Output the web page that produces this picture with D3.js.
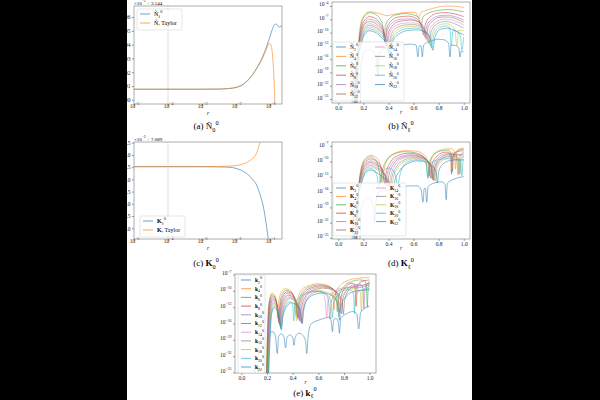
<!DOCTYPE html>
<html>
<head>
<meta charset="utf-8">
<script src="https://cdn.jsdelivr.net/npm/d3@7"></script>
<style>
  body { margin: 0; background: #000; }
  svg { display: block; }
</style>
</head>
<body>
<div id="chart"></div>
<script>
const W = 600, H = 400;
const SERIF = "'Liberation Serif', 'DejaVu Serif', serif";
const tab = d3.schemeCategory10;

// ---------- data ----------
const logRTicks = [1e-5, 1e-4, 1e-3, 1e-2, 1e-1];
const linRTicks = [0, 0.2, 0.4, 0.6, 0.8, 1.0];
const aTicks = [90, 91, 92, 93, 94, 95, 96];
const cTicks = [79.0, 79.5, 80.0, 80.5, 81.0, 81.5, 82.0, 82.5];
const bTickExp = [-25, -22, -19, -16, -13, -10, -7, -4];
const dTickExp = [-25, -22, -19, -16, -13, -10, -7];
const eTickExp = [-25, -22, -19, -16, -13, -10, -7];
const ells = [2, 4, 6, 8, 10, 12, 14, 16, 18, 20, 22];

// (a) N~_0^0 (units 1e-5, offset 3.544) vs r
const aExact = [[1e-5, 90.77], [1e-3, 90.77], [3e-3, 90.78], [6e-3, 90.82], [1e-2, 90.9], [2e-2, 91.3],
  [3e-2, 91.8], [4.5e-2, 92.5], [6e-2, 93.1], [8e-2, 93.9], [0.1, 94.6], [0.12, 95.2], [0.145, 95.5],
  [0.165, 95.4], [0.185, 95.25], [0.21, 95.35], [0.23, 95.3]];
const aTaylor = [[1e-5, 90.77], [1e-3, 90.77], [3e-3, 90.78], [6e-3, 90.82], [1e-2, 90.9], [2e-2, 91.3],
  [3e-2, 91.8], [4.5e-2, 92.45], [6e-2, 93.0], [8e-2, 93.75], [0.095, 94.1], [0.108, 93.9], [0.12, 93.0],
  [0.13, 91.5], [0.14, 89.5]];

// (c) K_0^0 (units 1e-3, offset 7.089) vs r
const cExact = [[1e-5, 81.52], [1e-3, 81.52], [3e-3, 81.51], [6e-3, 81.5], [1e-2, 81.45], [2e-2, 81.25],
  [3e-2, 81.02], [4e-2, 80.77], [5e-2, 80.4], [6.3e-2, 79.9], [7.9e-2, 79.07], [9e-2, 78.5]];
const cTaylor = [[1e-5, 81.52], [1e-3, 81.52], [3e-3, 81.53], [6e-3, 81.54], [1e-2, 81.57], [2e-2, 81.68],
  [3e-2, 81.85], [4e-2, 82.07], [5e-2, 82.5], [5.5e-2, 82.7]];

// (b) N~_l^0, log10 of value vs r
const bSeries = [
  [[0.11,-26],[0.122,-19.5],[0.13,-26],[0.175,-26],[0.18,-18],[0.2,-14.8],[0.22,-14],[0.25,-13.9],[0.28,-14.3],[0.305,-15.5],[0.315,-20],[0.325,-15],[0.36,-13.7],[0.42,-13.3],[0.5,-12.8],[0.58,-12.6],[0.62,-12.8],[0.635,-15.5],[0.645,-13],[0.66,-13],[0.67,-15.5],[0.68,-12.8],[0.74,-11.9],[0.8,-11.5],[0.85,-11.7],[0.88,-12.5],[0.89,-15.5],[0.9,-12.8],[0.93,-12.9],[0.96,-13.4],[0.97,-15.5],[0.98,-14.2],[1.0,-14.4]],
  [[0.15,-26],[0.16,-14],[0.18,-8],[0.21,-6],[0.25,-5.3],[0.3,-5.5],[0.35,-5.9],[0.39,-6.2],[0.42,-6.0],[0.5,-5.6],[0.58,-5.4],[0.62,-5.5],[0.64,-6.8],[0.655,-5.6],[0.7,-5.0],[0.76,-4.5],[0.82,-4.1],[0.88,-4.0],[0.94,-4.1],[1.0,-4.3]],
  [[0.15,-26],[0.162,-14],[0.18,-8.5],[0.21,-6.3],[0.25,-5.5],[0.29,-5.8],[0.33,-6.8],[0.355,-8.5],[0.365,-11],[0.375,-8.6],[0.41,-6.8],[0.46,-6.0],[0.54,-5.7],[0.6,-6.0],[0.64,-6.6],[0.66,-8.5],[0.675,-6.5],[0.72,-5.6],[0.8,-5.0],[0.87,-4.8],[0.94,-5.0],[1.0,-5.3]],
  [[0.145,-26],[0.158,-15],[0.18,-9.5],[0.21,-7.2],[0.25,-6.4],[0.29,-6.7],[0.33,-7.8],[0.36,-9.5],[0.372,-12],[0.385,-9.2],[0.42,-7.4],[0.48,-6.5],[0.56,-6.3],[0.62,-6.8],[0.66,-8.2],[0.68,-10.5],[0.695,-8.0],[0.74,-6.3],[0.8,-5.6],[0.86,-5.5],[0.93,-5.8],[1.0,-6.4]],
  [[0.14,-26],[0.155,-15.5],[0.18,-10],[0.21,-7.8],[0.25,-7.0],[0.29,-7.3],[0.33,-8.3],[0.36,-10],[0.375,-12.5],[0.39,-9.6],[0.43,-7.8],[0.5,-7.0],[0.57,-6.9],[0.63,-7.4],[0.67,-8.6],[0.69,-11],[0.705,-8.5],[0.75,-6.9],[0.81,-6.2],[0.87,-6.1],[0.94,-6.5],[1.0,-7.2]],
  [[0.14,-26],[0.152,-16],[0.18,-10.5],[0.21,-8.2],[0.25,-7.5],[0.29,-7.8],[0.33,-8.8],[0.37,-10.5],[0.385,-13],[0.4,-10],[0.44,-8.2],[0.5,-7.4],[0.58,-7.2],[0.64,-7.6],[0.68,-8.8],[0.7,-11.5],[0.715,-8.8],[0.76,-7.2],[0.82,-6.5],[0.88,-6.5],[0.94,-6.9],[1.0,-7.7]],
  [[0.135,-26],[0.15,-16.5],[0.18,-11],[0.21,-8.8],[0.25,-8.0],[0.29,-8.3],[0.33,-9.3],[0.37,-11],[0.39,-13.5],[0.405,-10.5],[0.45,-8.6],[0.52,-7.9],[0.59,-7.8],[0.65,-8.2],[0.69,-9.3],[0.715,-12],[0.73,-9.3],[0.78,-7.6],[0.84,-7.0],[0.9,-7.1],[0.95,-7.6],[1.0,-8.3]],
  [[0.135,-26],[0.148,-17],[0.18,-11.5],[0.21,-9.2],[0.25,-8.4],[0.29,-8.7],[0.34,-9.8],[0.38,-11.5],[0.4,-14],[0.415,-11],[0.46,-9.0],[0.53,-8.3],[0.6,-8.2],[0.66,-8.7],[0.7,-9.8],[0.725,-12.5],[0.74,-9.8],[0.79,-8.0],[0.85,-7.5],[0.9,-7.7],[0.95,-8.3],[1.0,-9.0]],
  [[0.13,-26],[0.145,-17.5],[0.18,-12],[0.21,-9.6],[0.25,-8.8],[0.29,-9.1],[0.34,-10.2],[0.38,-12],[0.405,-14.5],[0.42,-11.4],[0.47,-9.4],[0.54,-8.7],[0.61,-8.6],[0.67,-9.1],[0.71,-10.2],[0.735,-13],[0.75,-10.2],[0.8,-8.4],[0.86,-8.0],[0.9,-8.4],[0.93,-9.5],[0.945,-13],[0.96,-9.5],[1.0,-9.6]],
  [[0.13,-26],[0.143,-18],[0.18,-12.5],[0.21,-10],[0.25,-9.2],[0.29,-9.5],[0.34,-10.6],[0.39,-12.5],[0.41,-15],[0.425,-11.8],[0.48,-9.8],[0.55,-9.1],[0.62,-9.0],[0.68,-9.5],[0.72,-10.6],[0.745,-13.5],[0.76,-10.6],[0.81,-8.8],[0.86,-8.5],[0.89,-9.0],[0.9,-13],[0.915,-9.5],[0.95,-9.8],[0.975,-11],[0.985,-14],[1.0,-11]],
  [[0.125,-26],[0.14,-18.5],[0.18,-13],[0.21,-10.4],[0.25,-9.6],[0.29,-9.9],[0.34,-11],[0.39,-13],[0.415,-15.5],[0.43,-12.2],[0.49,-10.2],[0.56,-9.5],[0.63,-9.4],[0.69,-9.9],[0.73,-11],[0.755,-14],[0.77,-11],[0.82,-9.2],[0.87,-9.0],[0.92,-9.4],[0.96,-10],[1.0,-10.5]]
];

// (d) K_l^0, log10 of value vs r
const dSeries = [
  [[0.11,-26],[0.12,-20],[0.125,-26],[0.17,-26],[0.18,-20],[0.2,-17.8],[0.23,-17.2],[0.26,-17.6],[0.28,-19],[0.29,-22],[0.3,-18],[0.33,-15.8],[0.4,-15.6],[0.48,-15.2],[0.56,-14.8],[0.63,-14.8],[0.66,-15.5],[0.675,-18],[0.685,-15.3],[0.695,-15.3],[0.705,-18],[0.715,-15],[0.77,-14.2],[0.82,-14.0],[0.85,-14.4],[0.86,-17.5],[0.87,-14.3],[0.92,-13.5],[0.97,-13.1],[1.0,-13.0]],
  [[0.15,-26],[0.162,-16],[0.185,-11],[0.22,-9.3],[0.26,-8.8],[0.3,-9.2],[0.33,-10.3],[0.345,-12],[0.355,-14],[0.365,-11.6],[0.4,-9.4],[0.46,-8.3],[0.54,-7.9],[0.62,-8.0],[0.68,-8.6],[0.71,-9.8],[0.725,-12.8],[0.74,-9.8],[0.78,-8.2],[0.84,-7.6],[0.9,-7.5],[0.925,-8.0],[0.935,-11.5],[0.945,-8.2],[0.97,-7.5],[1.0,-7.4]],
  [[0.148,-26],[0.16,-16.5],[0.185,-11.4],[0.22,-9.6],[0.26,-9.1],[0.29,-9.5],[0.315,-10.6],[0.33,-12.4],[0.34,-14.2],[0.35,-12],[0.39,-9.6],[0.45,-8.5],[0.53,-8.1],[0.61,-8.3],[0.67,-8.9],[0.7,-10.1],[0.715,-13],[0.73,-10],[0.77,-8.5],[0.83,-7.9],[0.88,-7.8],[0.9,-8.5],[0.91,-12],[0.92,-8.6],[0.96,-7.8],[1.0,-7.6]],
  [[0.145,-26],[0.158,-17],[0.185,-11.8],[0.22,-10],[0.26,-9.5],[0.3,-9.9],[0.34,-11],[0.36,-12.8],[0.37,-14.4],[0.38,-12.4],[0.42,-10],[0.48,-8.8],[0.56,-8.4],[0.63,-8.6],[0.69,-9.3],[0.72,-10.5],[0.735,-13.2],[0.75,-10.5],[0.79,-8.9],[0.85,-8.2],[0.88,-8.2],[0.895,-9],[0.903,-12.5],[0.912,-9],[0.95,-8.1],[1.0,-7.9]],
  [[0.142,-26],[0.156,-17.4],[0.185,-12.2],[0.22,-10.4],[0.26,-9.9],[0.3,-10.3],[0.34,-11.3],[0.37,-13],[0.38,-14.6],[0.39,-12.6],[0.43,-10.3],[0.49,-9.1],[0.57,-8.7],[0.64,-8.9],[0.7,-9.6],[0.73,-10.8],[0.745,-13.4],[0.76,-10.8],[0.8,-9.2],[0.86,-8.5],[0.92,-8.4],[0.945,-9.2],[0.955,-12.6],[0.965,-9.2],[1.0,-8.2]],
  [[0.14,-26],[0.154,-17.8],[0.185,-12.6],[0.22,-10.7],[0.26,-10.2],[0.3,-10.6],[0.35,-11.7],[0.38,-13.3],[0.392,-14.8],[0.402,-12.9],[0.44,-10.6],[0.5,-9.3],[0.58,-8.9],[0.65,-9.1],[0.71,-9.8],[0.74,-11],[0.755,-13.6],[0.77,-11],[0.81,-9.4],[0.87,-8.7],[0.93,-8.6],[0.97,-8.7],[1.0,-8.5]],
  [[0.138,-26],[0.152,-18.2],[0.185,-13],[0.22,-11],[0.26,-10.5],[0.3,-10.9],[0.35,-12],[0.39,-13.6],[0.405,-15],[0.415,-13.2],[0.45,-10.9],[0.51,-9.5],[0.59,-9.1],[0.66,-9.3],[0.72,-10],[0.75,-11.2],[0.765,-13.8],[0.78,-11.2],[0.82,-9.6],[0.88,-8.9],[0.94,-8.8],[0.98,-8.9],[1.0,-8.8]],
  [[0.136,-26],[0.15,-18.6],[0.185,-13.3],[0.22,-11.3],[0.26,-10.8],[0.3,-11.2],[0.36,-12.4],[0.4,-13.9],[0.415,-15.2],[0.425,-13.4],[0.46,-11.2],[0.52,-9.8],[0.6,-9.3],[0.67,-9.5],[0.72,-10.1],[0.745,-11.2],[0.758,-13.7],[0.77,-11.2],[0.81,-9.8],[0.87,-9.1],[0.93,-9.0],[0.96,-9.4],[0.97,-12.4],[0.98,-9.4],[1.0,-9.0]],
  [[0.134,-26],[0.148,-19],[0.185,-13.6],[0.22,-11.6],[0.26,-11.1],[0.3,-11.5],[0.36,-12.7],[0.41,-14.2],[0.425,-15.4],[0.435,-13.6],[0.47,-11.4],[0.53,-10],[0.61,-9.5],[0.68,-9.7],[0.73,-10.4],[0.76,-11.5],[0.772,-13.9],[0.785,-11.5],[0.82,-10],[0.88,-9.3],[0.93,-9.2],[0.955,-9.6],[0.963,-12.6],[0.972,-9.6],[1.0,-9.2]],
  [[0.13,-26],[0.146,-19.4],[0.185,-14],[0.22,-11.9],[0.26,-11.4],[0.29,-11.9],[0.31,-13],[0.325,-15],[0.335,-13],[0.36,-11.8],[0.4,-11.3],[0.44,-11.8],[0.46,-13.2],[0.475,-14.8],[0.49,-12.8],[0.54,-10.3],[0.62,-9.7],[0.68,-9.9],[0.7,-10.6],[0.715,-13.4],[0.73,-10.6],[0.78,-9.8],[0.84,-9.5],[0.9,-9.5],[0.975,-9.9],[0.985,-12.8],[0.995,-9.9],[1.0,-9.5]],
  [[0.128,-26],[0.144,-19.8],[0.185,-14.3],[0.22,-12.2],[0.26,-11.7],[0.3,-12.1],[0.36,-13.2],[0.42,-14.6],[0.44,-15.6],[0.45,-13.9],[0.49,-11.8],[0.55,-10.5],[0.63,-9.9],[0.7,-10.1],[0.75,-10.9],[0.78,-12],[0.79,-14.2],[0.8,-12],[0.84,-10.4],[0.9,-9.8],[0.95,-9.7],[1.0,-9.7]]
];

// (e) k_l^0, log10 of value vs r
const eSeries = [
  [[0.1,-26],[0.105,-23.5],[0.11,-26],[0.125,-26],[0.13,-23.5],[0.135,-26],[0.2,-26],[0.21,-19],[0.225,-17.6],[0.245,-17.5],[0.265,-18.3],[0.28,-21.5],[0.29,-18.4],[0.31,-17.9],[0.33,-18.3],[0.345,-20.5],[0.355,-18.6],[0.38,-18.1],[0.4,-18.6],[0.41,-20],[0.42,-18.5],[0.45,-17.8],[0.48,-18.2],[0.5,-19.2],[0.51,-21.5],[0.52,-18.5],[0.54,-16.2],[0.56,-15.8],[0.6,-15.4],[0.65,-15.0],[0.69,-14.8],[0.7,-15.5],[0.71,-17.5],[0.72,-15.3],[0.74,-15.1],[0.755,-15.6],[0.765,-17.8],[0.775,-15],[0.82,-14.2],[0.87,-13.8],[0.9,-14.2],[0.915,-17],[0.93,-14],[0.97,-13.1],[1.0,-12.8]],
  [[0.195,-26],[0.205,-16],[0.22,-11.5],[0.24,-10.4],[0.26,-10.8],[0.275,-12.5],[0.283,-15],[0.29,-12.4],[0.31,-10.3],[0.34,-9.6],[0.37,-9.8],[0.4,-10.6],[0.415,-12],[0.425,-14.5],[0.435,-12],[0.47,-9.8],[0.53,-9.0],[0.6,-8.7],[0.66,-8.9],[0.7,-9.6],[0.715,-11],[0.722,-13.5],[0.73,-11],[0.77,-9.0],[0.83,-8.1],[0.9,-7.7],[0.95,-7.6],[1.0,-7.5]],
  [[0.195,-26],[0.206,-16.4],[0.22,-11.8],[0.24,-10.7],[0.26,-11.1],[0.28,-12.9],[0.29,-15.4],[0.298,-12.7],[0.32,-10.6],[0.35,-9.9],[0.38,-10.1],[0.41,-11],[0.425,-12.4],[0.435,-14.8],[0.445,-12.3],[0.48,-10.1],[0.54,-9.2],[0.61,-8.9],[0.67,-9.1],[0.72,-9.8],[0.74,-11.2],[0.748,-13.8],[0.756,-11.2],[0.8,-9.2],[0.86,-8.3],[0.92,-8.0],[0.96,-8.1],[0.975,-9.2],[0.982,-13],[0.99,-9.2],[1.0,-8.6]],
  [[0.198,-26],[0.208,-16.8],[0.222,-12.1],[0.242,-11.0],[0.262,-11.4],[0.282,-13.2],[0.293,-15.8],[0.302,-13],[0.325,-10.9],[0.355,-10.2],[0.385,-10.4],[0.415,-11.3],[0.432,-12.8],[0.442,-15.1],[0.452,-12.6],[0.49,-10.3],[0.55,-9.4],[0.62,-9.1],[0.68,-9.3],[0.73,-10],[0.755,-11.4],[0.765,-14],[0.775,-11.4],[0.81,-9.4],[0.86,-8.6],[0.885,-8.8],[0.895,-12.8],[0.905,-8.9],[0.95,-8.2],[1.0,-8.0]],
  [[0.2,-26],[0.21,-17.2],[0.224,-12.4],[0.244,-11.3],[0.264,-11.7],[0.285,-13.5],[0.297,-16.1],[0.306,-13.3],[0.33,-11.2],[0.36,-10.5],[0.39,-10.7],[0.42,-11.6],[0.44,-13.1],[0.45,-15.4],[0.46,-12.9],[0.5,-10.5],[0.56,-9.6],[0.63,-9.3],[0.69,-9.5],[0.74,-10.2],[0.77,-11.6],[0.78,-14.2],[0.79,-11.6],[0.83,-9.6],[0.88,-8.9],[0.93,-8.8],[0.948,-9.6],[0.956,-13.3],[0.964,-9.6],[1.0,-8.3]],
  [[0.202,-26],[0.212,-17.6],[0.226,-12.7],[0.246,-11.6],[0.266,-12],[0.288,-13.8],[0.3,-16.3],[0.31,-13.6],[0.335,-11.5],[0.365,-10.8],[0.395,-11],[0.425,-11.9],[0.448,-13.4],[0.458,-15.6],[0.468,-13.2],[0.51,-10.7],[0.57,-9.8],[0.64,-9.5],[0.7,-9.7],[0.75,-10.4],[0.785,-11.8],[0.795,-14.3],[0.805,-11.8],[0.84,-9.8],[0.89,-9.1],[0.94,-9.0],[1.0,-8.5]],
  [[0.204,-26],[0.214,-18],[0.228,-13],[0.248,-11.9],[0.268,-12.3],[0.29,-14.1],[0.303,-16.5],[0.313,-13.9],[0.34,-11.8],[0.37,-11.1],[0.4,-11.3],[0.43,-12.2],[0.455,-13.7],[0.466,-15.8],[0.476,-13.5],[0.5,-11.5],[0.54,-10.3],[0.6,-10.0],[0.64,-10.6],[0.655,-12],[0.665,-14.8],[0.675,-12],[0.72,-10.2],[0.78,-9.5],[0.84,-9.3],[0.9,-9.2],[0.95,-9.0],[1.0,-8.7]],
  [[0.206,-26],[0.216,-18.4],[0.23,-13.3],[0.25,-12.2],[0.27,-12.6],[0.292,-14.4],[0.306,-16.6],[0.316,-14.2],[0.345,-12],[0.375,-11.3],[0.405,-11.5],[0.435,-12.4],[0.46,-13.9],[0.472,-16],[0.482,-13.7],[0.51,-11.6],[0.56,-10.4],[0.62,-10.1],[0.66,-10.6],[0.68,-12.1],[0.69,-15.2],[0.7,-12.1],[0.74,-10.3],[0.8,-9.6],[0.86,-9.4],[0.92,-9.4],[0.96,-9.2],[1.0,-8.9]],
  [[0.208,-26],[0.218,-18.8],[0.232,-13.6],[0.252,-12.5],[0.272,-12.9],[0.294,-14.7],[0.308,-16.8],[0.318,-14.5],[0.35,-12.2],[0.38,-11.5],[0.41,-11.8],[0.42,-12.8],[0.43,-15.5],[0.44,-12.8],[0.48,-11],[0.54,-10.2],[0.6,-9.9],[0.66,-10.2],[0.72,-10.9],[0.75,-12.2],[0.76,-14.8],[0.77,-12.2],[0.81,-10.2],[0.86,-9.6],[0.9,-9.6],[0.928,-10.2],[0.936,-13.8],[0.944,-10.2],[0.98,-9.4],[1.0,-9.2]],
  [[0.21,-26],[0.22,-19.2],[0.234,-13.9],[0.254,-12.8],[0.274,-13.2],[0.296,-15],[0.31,-17],[0.32,-14.8],[0.35,-12.6],[0.38,-12],[0.4,-12.5],[0.408,-15.5],[0.416,-12.5],[0.45,-11.2],[0.5,-10.5],[0.57,-10.1],[0.63,-10.3],[0.68,-11],[0.7,-12.3],[0.71,-15],[0.72,-12.3],[0.77,-10.3],[0.82,-9.8],[0.86,-9.9],[0.875,-10.8],[0.882,-14.2],[0.89,-10.8],[0.93,-9.9],[1.0,-9.6]],
  [[0.212,-26],[0.222,-19.6],[0.236,-14.2],[0.256,-13.1],[0.276,-13.5],[0.298,-15.3],[0.312,-17.2],[0.322,-15.1],[0.355,-12.8],[0.39,-12.2],[0.43,-12.6],[0.46,-13.6],[0.475,-16],[0.485,-13.6],[0.52,-11.4],[0.58,-10.6],[0.64,-10.4],[0.7,-10.8],[0.74,-11.8],[0.755,-13],[0.765,-15.4],[0.775,-13],[0.82,-10.9],[0.88,-10.1],[0.94,-9.9],[1.0,-9.8]]
];

// ---------- drawing ----------
const svg = d3.select("#chart").append("svg")
  .attr("width", W).attr("height", H)
  .attr("font-family", SERIF);

svg.append("rect").attr("width", W).attr("height", H).attr("fill", "#fff");

// rich text with sub/superscripts
function rich(sel, parts, s) {
  let off = 0;
  parts.forEach(function(p) {
    const target = p.sub ? 0.3 * s : p.sup ? -0.45 * s : 0;
    const ts = sel.append("tspan").attr("dy", target - off).text(p.t);
    if (p.sub || p.sup) ts.attr("font-size", 0.7 * s);
    if (p.b) ts.attr("font-weight", "bold");
    if (p.i) ts.attr("font-style", "italic");
    off = target;
  });
}

function styleAxis(ax) {
  ax.select(".domain").remove();
  ax.selectAll("line").attr("stroke", "#333").attr("stroke-width", 0.5);
  ax.selectAll("text").attr("font-size", 5.5).attr("fill", "#222").attr("font-family", SERIF);
}

function powLabels(ax) {
  ax.selectAll(".tick text").each(function(d) {
    const t = d3.select(this);
    t.text(null);
    rich(t, [{ t: "10" }, { t: "\u2212" + Math.round(-Math.log10(d)), sup: true }], 5.5);
  });
}

function frame(id, box) {
  svg.append("clipPath").attr("id", id).append("rect")
    .attr("x", box.l).attr("y", box.t).attr("width", box.r - box.l).attr("height", box.b - box.t);
  return svg.append("g");
}

function spines(g, box) {
  g.append("rect").attr("x", box.l).attr("y", box.t)
    .attr("width", box.r - box.l).attr("height", box.b - box.t)
    .attr("fill", "none").attr("stroke", "#777").attr("stroke-width", 0.6);
}

function rLabel(g, box) {
  g.append("text").attr("x", (box.l + box.r) / 2).attr("y", box.b + 11)
    .attr("text-anchor", "middle").attr("font-size", 5.5).attr("font-style", "italic").text("r");
}

function caption(x, y, parts) {
  const t = svg.append("text").attr("x", x).attr("y", y).attr("text-anchor", "middle").attr("font-size", 9);
  rich(t, parts, 9);
}

function legend(g, x, y, w, h, items, rows, rowH, colW, fs) {
  g.append("rect").attr("x", x).attr("y", y).attr("width", w).attr("height", h).attr("rx", 1.5)
    .attr("fill", "#fff").attr("fill-opacity", 0.8).attr("stroke", "#ccc").attr("stroke-width", 0.5);
  items.forEach(function(it, i) {
    const col = Math.floor(i / rows), row = i % rows;
    const lx = x + 3 + col * colW, ly = y + 5 + row * rowH;
    g.append("line").attr("x1", lx).attr("x2", lx + 10).attr("y1", ly).attr("y2", ly)
      .attr("stroke", it.color).attr("stroke-width", 1).attr("stroke-opacity", 0.7);
    const t = g.append("text").attr("x", lx + 14).attr("y", ly + fs * 0.35).attr("font-size", fs);
    rich(t, it.parts, fs);
  });
}

// ----- panels with log-r axis (a), (c) -----
function logPanel(id, box, yDomain, yTicks, yFmt, exact, taylor, offsetParts, legendPos, labels) {
  const g = frame(id, box);
  const x = d3.scaleLog().domain([1e-5, Math.pow(10, -0.65)]).range([box.l, box.r]);
  const y = d3.scaleLinear().domain(yDomain).range([box.b, box.t]);

  g.append("line").attr("x1", x(1e-4)).attr("x2", x(1e-4)).attr("y1", box.t).attr("y2", box.b)
    .attr("stroke", "#aaa").attr("stroke-width", 0.7).attr("stroke-dasharray", "1,1");

  const line = d3.line().x(function(d) { return x(d[0]); }).y(function(d) { return y(d[1]); })
    .curve(d3.curveMonotoneX);
  const lg = g.append("g").attr("clip-path", "url(#" + id + ")");
  lg.append("path").datum(exact).attr("d", line).attr("fill", "none").attr("stroke", tab[0])
    .attr("stroke-width", 1).attr("stroke-opacity", 0.6);
  lg.append("path").datum(taylor).attr("d", line).attr("fill", "none").attr("stroke", tab[1])
    .attr("stroke-width", 1).attr("stroke-opacity", 0.6);

  const xa = g.append("g").attr("transform", "translate(0," + box.b + ")")
    .call(d3.axisBottom(x).tickValues(logRTicks).tickSize(2).tickPadding(1.5));
  styleAxis(xa); powLabels(xa);
  const ya = g.append("g").attr("transform", "translate(" + box.l + ",0)")
    .call(d3.axisLeft(y).tickValues(yTicks).tickSize(2).tickPadding(1.5).tickFormat(yFmt));
  styleAxis(ya);
  spines(g, box);
  rLabel(g, box);

  const ot = g.append("text").attr("x", box.l).attr("y", box.t - 1.5).attr("font-size", 5);
  rich(ot, offsetParts, 5);

  legend(g, legendPos[0], legendPos[1], 45, 21, [
    { color: tab[0], parts: labels[0] },
    { color: tab[1], parts: labels[1] }
  ], 2, 9, 0, 6);
}

// ----- panels with linear r axis and log values (b), (d), (e) -----
function seriesPanel(id, box, yExp, tickExp, series, legendBox, rows, rowH, colW, sym) {
  const g = frame(id, box);
  const x = d3.scaleLinear().domain([-0.05, 1.05]).range([box.l, box.r]);
  const y = d3.scaleLog().domain([Math.pow(10, yExp[0]), Math.pow(10, yExp[1])]).range([box.b, box.t]);
  const line = d3.line().x(function(d) { return x(d[0]); }).y(function(d) { return y(Math.pow(10, d[1])); })
    .curve(d3.curveMonotoneX);
  const lg = g.append("g").attr("clip-path", "url(#" + id + ")");
  series.forEach(function(s, i) {
    lg.append("path").datum(s).attr("d", line).attr("fill", "none")
      .attr("stroke", tab[i % 10]).attr("stroke-width", 0.8).attr("stroke-opacity", 0.65);
  });

  const xa = g.append("g").attr("transform", "translate(0," + box.b + ")")
    .call(d3.axisBottom(x).tickValues(linRTicks).tickSize(2).tickPadding(1.5).tickFormat(d3.format(".1f")));
  styleAxis(xa);
  const ya = g.append("g").attr("transform", "translate(" + box.l + ",0)")
    .call(d3.axisLeft(y).tickValues(tickExp.map(function(e) { return Math.pow(10, e); })).tickSize(2).tickPadding(1.5));
  styleAxis(ya); powLabels(ya);
  spines(g, box);
  rLabel(g, box);

  const items = series.map(function(s, i) {
    return { color: tab[i % 10], parts: [sym, { t: String(ells[i]), sub: true }, { t: "0", sup: true }] };
  });
  legend(g, legendBox[0], legendBox[1], legendBox[2], legendBox[3], items, rows, rowH, colW, 5.5);
}

// (a)
logPanel("clipA", { l: 134, r: 282, t: 6, b: 104 }, [89.7, 96.8], aTicks, d3.format("d"), aExact, aTaylor,
  [{ t: "\u00d710" }, { t: "\u22125", sup: true }, { t: " + 3.544" }], [137, 9],
  [[{ t: "\u00d1" }, { t: "\u2113", sub: true }, { t: "0", sup: true }], [{ t: "\u00d1, Taylor" }]]);

// (c)
logPanel("clipC", { l: 134, r: 282, t: 142, b: 239 }, [78.56, 82.53], cTicks, d3.format(".1f"), cExact, cTaylor,
  [{ t: "\u00d710" }, { t: "\u22123", sup: true }, { t: " + 7.089" }], [140, 216],
  [[{ t: "K", b: true }, { t: "\u2113", sub: true }, { t: "0", sup: true }], [{ t: "K", b: true }, { t: ", Taylor" }]]);

// (b)
seriesPanel("clipB", { l: 332, r: 470, t: 2, b: 103 }, [-25.9, -3.1], bTickExp, bSeries,
  [333, 42, 71, 59], 6, 9.4, 39, { t: "\u00d1" });
// (d)
seriesPanel("clipD", { l: 332, r: 470, t: 142, b: 239 }, [-25.2, -6.2], dTickExp, dSeries,
  [333, 183, 73, 53], 6, 8.4, 40, { t: "K", b: true });
// (e)
seriesPanel("clipE", { l: 235, r: 376, t: 274, b: 373 }, [-25.1, -6.9], eTickExp, eSeries,
  [238, 275, 27, 98], 11, 8.7, 0, { t: "k", b: true });

// captions
caption(206, 129, [{ t: "(a) \u00d1" }, { t: "0", sub: true }, { t: "0", sup: true }]);
caption(401, 129, [{ t: "(b) \u00d1" }, { t: "\u2113", sub: true }, { t: "0", sup: true }]);
caption(206, 266, [{ t: "(c) " }, { t: "K", b: true }, { t: "0", sub: true }, { t: "0", sup: true }]);
caption(401, 266, [{ t: "(d) " }, { t: "K", b: true }, { t: "\u2113", sub: true }, { t: "0", sup: true }]);
caption(305, 395.5, [{ t: "(e) " }, { t: "k", b: true }, { t: "\u2113", sub: true }, { t: "0", sup: true }]);

// black page margins
svg.append("rect").attr("x", 0).attr("width", 127).attr("height", H).attr("fill", "#000");
svg.append("rect").attr("x", 472).attr("width", W - 472).attr("height", H).attr("fill", "#000");
</script>
</body>
</html>
